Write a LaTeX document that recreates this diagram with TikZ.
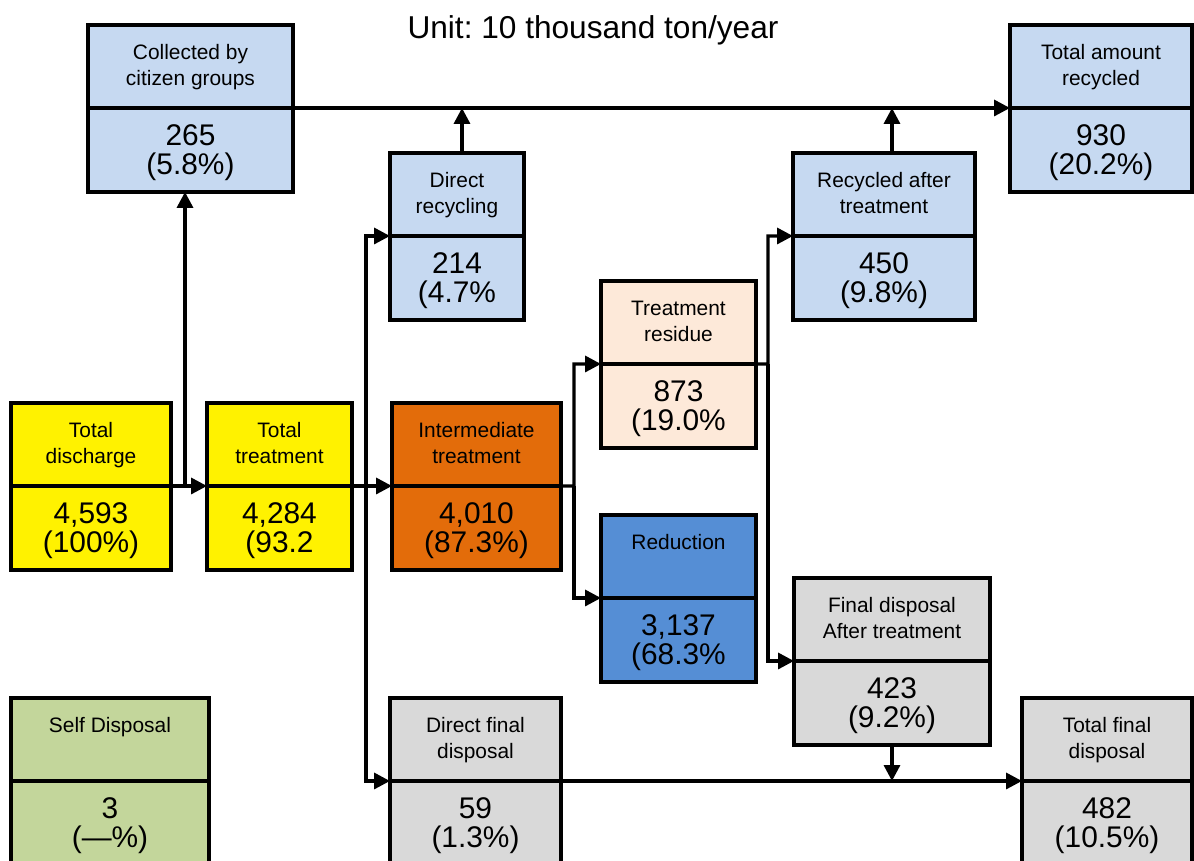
\documentclass[tikz,border=0pt]{standalone}
\usepackage{fontspec}
\setmainfont{Liberation Sans}
\usetikzlibrary{arrows.meta}
\frenchspacing

\definecolor{paleblue}{RGB}{198,217,241}
\definecolor{peach}{RGB}{253,233,217}
\definecolor{burnt}{RGB}{227,108,10}
\definecolor{midblue}{RGB}{85,142,213}
\definecolor{lightgrey}{RGB}{217,217,217}
\definecolor{olive}{RGB}{195,214,155}

% one box = label cell on top, amount cell below (two lines each)
\newcommand{\wastebox}[6]{%
  \node[lab, fill = #4, minimum width = #3cm, anchor = north west] (#1) at (#2) {#5};
  \node[val, fill = #4, minimum width = #3cm, anchor = north] (#1-v) at (#1.south) {#6};
}

\begin{document}
\begin{tikzpicture}[x = 0.02cm, y = -0.02cm,
    lab/.style  = {draw = black, line width = 2pt, minimum height = 1.66cm,
                   align = center, inner sep = 0pt, outer sep = 0pt,
                   text height = 0.8cm, text depth = 0.04cm,
                   font = \fontsize{11.9}{14.7}\selectfont},
    val/.style  = {lab, minimum height = 1.68cm,
                   text height = 1.04cm, text depth = 0.04cm,
                   font = \fontsize{17}{17}\selectfont},
    flow/.style = {line width = 1.9pt, -{Triangle[length = 9pt, width = 9pt]}}]
  \useasboundingbox (0,0) rectangle (1194,861);
  \clip (0,0) rectangle (1194,861);

  \node[font = \fontsize{18}{20}\selectfont] (unit) at (593,30)
    {Unit: 10 thousand ton/year};

  % boxes
  \wastebox{coll}{88,25}{4.10}{paleblue}{Collected by\\citizen groups}{265\\(5.8\%)}
  \wastebox{tar}{1010,25}{3.64}{paleblue}{Total amount\\recycled}{930\\(20.2\%)}
  \wastebox{dr}{390,153}{2.68}{paleblue}{Direct\\recycling}{214\\(4.7\%}
  \wastebox{rat}{793,153}{3.64}{paleblue}{Recycled after\\treatment}{450\\(9.8\%)}
  \wastebox{tr}{601,281}{3.10}{peach}{Treatment\\residue}{873\\(19.0\%}
  \wastebox{td}{11,403}{3.20}{yellow}{Total\\discharge}{4,593\\(100\%)}
  \wastebox{tt}{207,403}{2.90}{yellow}{Total\\treatment}{4,284\\(93.2}
  \wastebox{it}{392,403}{3.38}{burnt}{Intermediate\\treatment}{4,010\\(87.3\%)}
  \wastebox{red}{601,515}{3.10}{midblue}{Reduction\\\mbox{}}{3,137\\(68.3\%}
  \wastebox{fdat}{794,578}{3.92}{lightgrey}{Final disposal\\After treatment}{423\\(9.2\%)}
  \wastebox{sd}{11,698}{3.96}{olive}{Self Disposal\\\mbox{}}{3\\(—\%)}
  \wastebox{dfd}{390,698}{3.42}{lightgrey}{Direct final\\disposal}{59\\(1.3\%)}
  \wastebox{tfd}{1022,698}{3.40}{lightgrey}{Total final\\disposal}{482\\(10.5\%)}

  % branch points
  \coordinate (split1) at (185,486);
  \coordinate (split2) at (366,486);
  \coordinate (split3) at (574,486);
  \coordinate (split4) at (768,364);

  % flows
  \draw[flow] (td.south east) -- (tt.south west);
  \draw[flow] (split1) -- (split1 |- coll-v.south);
  \draw[flow] (tt.south east) -- (it.south west);
  \draw[flow] (split2) |- (dr.south west);
  \draw[flow] (split2) |- (dfd.south west);
  \draw[flow] (it.south east) -- (split3) |- (tr.south west);
  \draw[flow] (split3) |- (red.south west);
  \draw[flow] (tr.south east) -- (split4) |- (rat.south west);
  \draw[flow] (split4) |- (fdat.south west);
  \draw[flow] (coll.south east) -- (tar.south west);
  \draw[flow] ([xshift = 0.1cm]dr.north) -- ([xshift = 0.1cm]dr.north |- coll.south);
  \draw[flow] ([xshift = 0.16cm]rat.north) -- ([xshift = 0.16cm]rat.north |- tar.south);
  \draw[flow] (fdat-v.south) -- (fdat-v.south |- tfd.south);
  \draw[flow] (dfd.south east) -- (tfd.south west);
\end{tikzpicture}
\end{document}
